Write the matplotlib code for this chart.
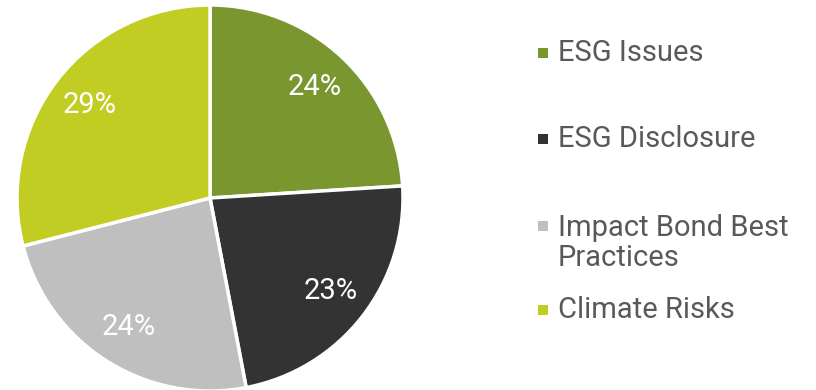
import matplotlib
matplotlib.use("Agg")
import matplotlib.pyplot as plt
from matplotlib.patches import Rectangle

plt.rcParams['font.family'] = ['Roboto', 'DejaVu Sans']

categories = ["ESG Issues", "ESG Disclosure", "Impact Bond Best\nPractices", "Climate Risks"]
shares = [24, 23, 24, 29]
colors = ["#7a962e", "#333333", "#bfbfbf", "#c2cd23"]

W, H = 816, 390
fig = plt.figure(figsize=(W / 100, H / 100), dpi=100)

# pie axes: centre ~ (210, 198) px, radius ~ 193 px
cx, cy, r = 210, 198, 193
ax = fig.add_axes([(cx - r) / W, 1 - (cy + r) / H, 2 * r / W, 2 * r / H])
wedges, texts, autotexts = ax.pie(
    shares, colors=colors, startangle=90, counterclock=False,
    autopct=lambda p: f"{p:.0f}%", pctdistance=0.79,
    wedgeprops=dict(edgecolor="white", linewidth=2.5),
    textprops=dict(color="white", fontsize=21),
)
ax.set_xlim(-1, 1)
ax.set_ylim(-1, 1)
ax.set_aspect("equal")
ax.axis("off")

# legend drawn as squares plus labels (first-line centre y, in px)
line_gap = 34
legend_y = [53, 139, 226, 310]
for label, color, y in zip(categories, colors, legend_y):
    n_lines = label.count("\n") + 1
    fig.patches.append(Rectangle((538 / W, 1 - (y + 5) / H), 10 / W, 10 / H,
                                 transform=fig.transFigure, facecolor=color,
                                 edgecolor="none"))
    yc = y + (n_lines - 1) * line_gap / 2
    fig.text(558 / W, 1 - yc / H, label, fontsize=21, color="#595959",
             va="center", ha="left", linespacing=1.12)

fig.savefig("out.png", dpi=100, facecolor="white")
